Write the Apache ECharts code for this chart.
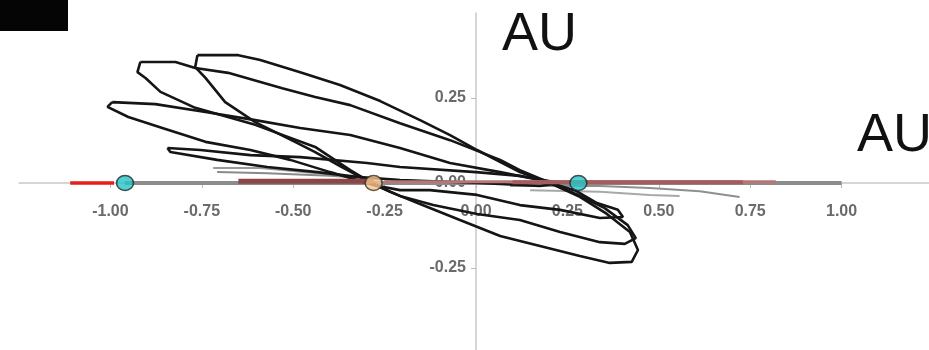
<!DOCTYPE html>
<html><head><meta charset="utf-8">
<script src="https://cdn.jsdelivr.net/npm/echarts@6/dist/echarts.min.js"></script>
<style>html,body{margin:0;padding:0;background:#fff}#c{width:929px;height:350px}</style>
</head><body><div id="c"></div>
<script>
// Axis ranges and tick labels
const xRange = [-1.25, 1.25];
const yRange = [-0.5, 0.5];
const tickStep = 0.25;
const axisTitle = 'AU';

// Black orbit loops [x, y] in AU
const loopB = [[-0.762,0.376],[-0.650,0.376],[-0.590,0.362],[-0.481,0.326],[-0.372,0.288],[-0.262,0.241],[-0.153,0.185],[-0.071,0.141],[0.003,0.097],[0.120,0.032],[0.202,0.000],[0.284,-0.041],[0.358,-0.091],[0.421,-0.144],[0.443,-0.197],[0.426,-0.232],[0.366,-0.235],[0.284,-0.215],[0.175,-0.185],[0.066,-0.156],[-0.044,-0.109],[-0.153,-0.062],[-0.235,-0.026],[-0.290,0.003],[-0.372,0.050],[-0.440,0.091],[-0.495,0.121],[-0.604,0.179],[-0.686,0.238],[-0.740,0.309],[-0.768,0.341],[-0.762,0.376]];
const loopA = [[-0.918,0.356],[-0.822,0.356],[-0.768,0.338],[-0.678,0.324],[-0.530,0.279],[-0.440,0.253],[-0.344,0.229],[-0.208,0.176],[-0.071,0.126],[0.066,0.068],[0.120,0.038],[0.197,0.003],[0.279,-0.035],[0.352,-0.074],[0.415,-0.124],[0.437,-0.162],[0.407,-0.179],[0.339,-0.174],[0.230,-0.144],[0.120,-0.109],[0.003,-0.091],[-0.117,-0.065],[-0.208,-0.038],[-0.276,-0.006],[-0.344,0.038],[-0.440,0.106],[-0.604,0.171],[-0.768,0.221],[-0.863,0.268],[-0.904,0.309],[-0.926,0.326],[-0.918,0.356]];
const loopC = [[-0.995,0.238],[-0.877,0.232],[-0.740,0.209],[-0.604,0.185],[-0.481,0.162],[-0.344,0.141],[-0.208,0.103],[-0.071,0.059],[0.066,0.032],[0.175,0.009],[0.270,-0.021],[0.331,-0.059],[0.388,-0.079],[0.402,-0.100],[0.339,-0.103],[0.230,-0.079],[0.120,-0.065],[0.003,-0.035],[-0.126,-0.021],[-0.208,-0.021],[-0.281,-0.006],[-0.399,0.032],[-0.508,0.068],[-0.617,0.097],[-0.740,0.121],[-0.858,0.162],[-0.951,0.194],[-1.008,0.224],[-0.995,0.238]];
const loopD = [[-0.844,0.103],[-0.754,0.097],[-0.617,0.082],[-0.481,0.076],[-0.298,0.059],[-0.208,0.047],[0.000,0.032],[0.120,0.021],[0.230,0.000],[0.175,-0.009],[0.011,0.000],[-0.208,0.009],[-0.325,0.018],[-0.434,0.032],[-0.571,0.047],[-0.708,0.068],[-0.836,0.091],[-0.844,0.103]];

// Grey trajectory lines
const grey1 = [[-0.719,0.044],[-0.590,0.044],[-0.434,0.029],[-0.309,0.015],[-0.153,0.006],[0.120,-0.003]];
const grey2 = [[-0.708,0.032],[-0.571,0.029],[-0.399,0.021],[-0.262,0.012]];
const grey3 = [[0.093,-0.009],[0.339,-0.009],[0.475,-0.015],[0.612,-0.024],[0.721,-0.041]];
const grey4 = [[0.148,-0.021],[0.339,-0.026],[0.475,-0.035],[0.557,-0.038]];

// Lines along the x axis
const greyBand = [[-0.96,0],[1.0,0]];
const redSeg = [[-1.11,0],[-0.99,0]];
const maroonSeg = [[-0.65,0.005],[-0.28,0.005]];
const roseSeg = [[-0.25,0.004],[0.82,0.004]];
const maroonSeg2 = [[0.10,0.002],[0.73,0.002]];

// Planet markers
const cyanPts = [[-0.96,0],[0.28,0]];
const peachPts = [[-0.28,0]];

const chart = echarts.init(document.getElementById('c'), null, {renderer:'canvas'});
const lbl = {color:'#6a6a6a', fontSize:16, fontWeight:'bold', fontFamily:'Liberation Sans, Arial, sans-serif'};
function line(data, color, width, z){
  return {type:'line', data:data, showSymbol:false, symbol:'none', silent:true, animation:false,
    lineStyle:{color:color, width:width}, z:z||2};
}
chart.setOption({
  animation:false,
  grid:{left:19, top:13, width:914, height:340, containLabel:false, outerBoundsMode:'none'},
  xAxis:{type:'value', min:xRange[0], max:xRange[1], interval:tickStep, position:'bottom', offset:-170,
    axisLine:{onZero:false, lineStyle:{color:'#c8c8c8', width:1.5}},
    axisTick:{show:true, length:5, lineStyle:{color:'#bbb'}},
    splitLine:{show:false},
    axisLabel:Object.assign({margin:21, showMinLabel:false, showMaxLabel:false,
      formatter:v=>v.toFixed(2)}, lbl)},
  yAxis:{type:'value', min:yRange[0], max:yRange[1], interval:tickStep, position:'left', offset:-457,
    axisLine:{onZero:false, lineStyle:{color:'#c8c8c8', width:1.5}},
    axisTick:{show:true, length:5, lineStyle:{color:'#bbb'}},
    splitLine:{show:false},
    axisLabel:Object.assign({margin:10, showMinLabel:false, showMaxLabel:false,
      formatter:v=>v.toFixed(2)}, lbl)},
  graphic:[
    {type:'rect', left:0, top:0, shape:{width:68, height:31}, style:{fill:'#050505'}},
    {type:'text', x:502, y:35, style:{text:axisTitle, fontSize:54, fill:'#111', fontFamily:'Liberation Sans, Arial, sans-serif', verticalAlign:'middle'}},
    {type:'text', x:857, y:136, style:{text:axisTitle, fontSize:54, fill:'#111', fontFamily:'Liberation Sans, Arial, sans-serif', verticalAlign:'middle'}}
  ],
  series:[
    line(greyBand,'#8c8c8c',4,1),
    line(grey1,'#9a9a9a',2,2),
    line(grey2,'#8a8a8a',2,2),
    line(grey3,'#8f8f8f',2,2),
    line(grey4,'#a8a8a8',2,2),
    line(loopB,'#151515',2.6,3),
    line(loopA,'#151515',2.6,3),
    line(loopC,'#151515',2.6,3),
    line(loopD,'#151515',2.6,3),
    line(redSeg,'#e41e1a',3.5,4),
    line(maroonSeg,'#8c4646',5,4),
    line(roseSeg,'#b97575',3,4),
    line(maroonSeg2,'#a45c5c',4,4),
    {type:'scatter', data:cyanPts, symbol:'circle', symbolSize:[17,15], z:6, silent:true,
      itemStyle:{color:'#27c4c6', borderColor:'#1c2b2b', borderWidth:1.5}},
    {type:'scatter', data:peachPts, symbol:'circle', symbolSize:[17,15], z:6, silent:true,
      itemStyle:{color:'#f7c48c', borderColor:'#3a2f25', borderWidth:1.5}}
  ]
});
</script></body></html>
